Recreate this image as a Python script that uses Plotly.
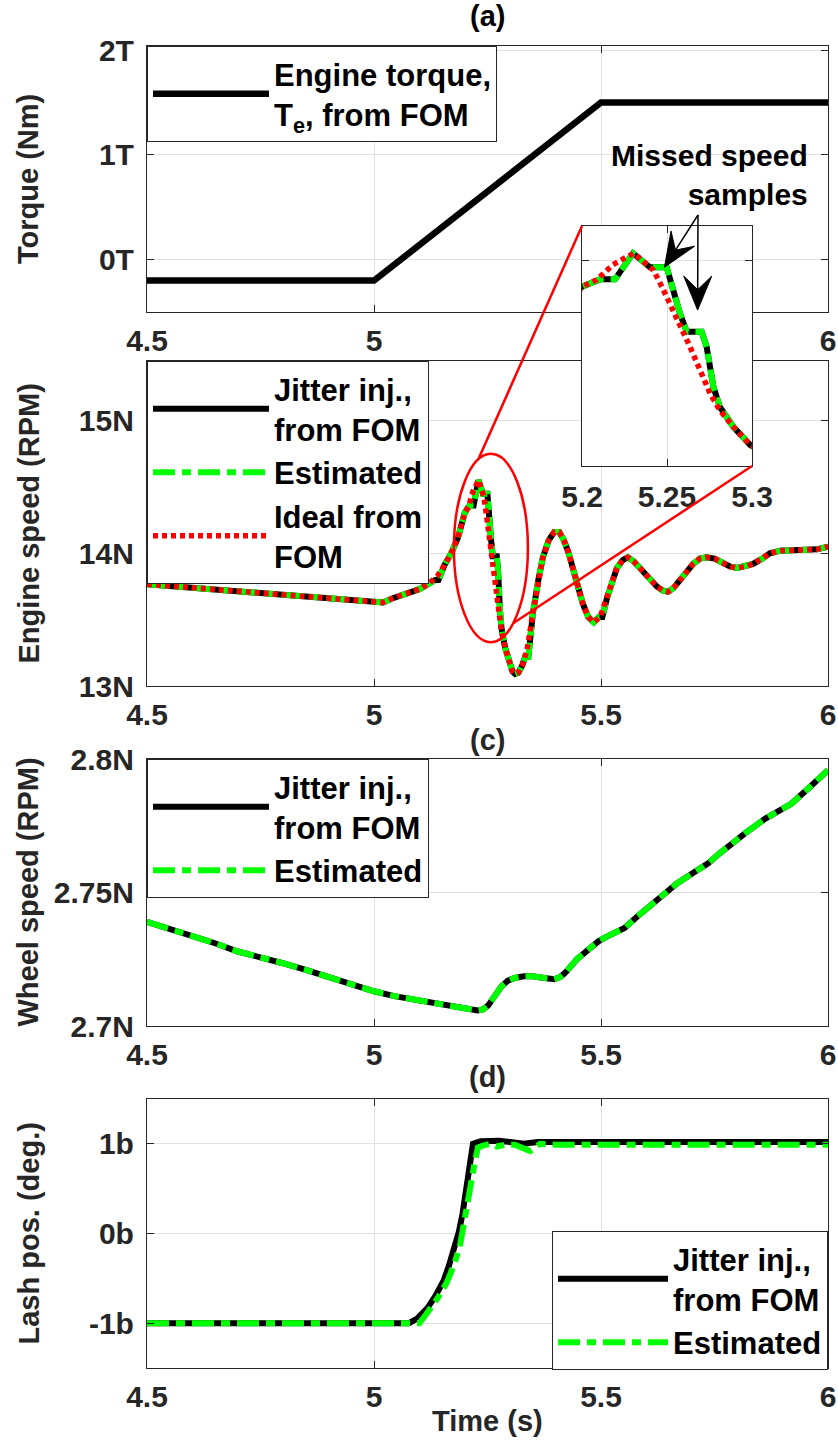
import math
import plotly.graph_objects as go

W, H = 838, 1441

# ---------------- data ----------------
x_ticks = [4.5, 5.0, 5.5, 6.0]
x_ticktext = ["4.5", "5", "5.5", "6"]

# (a) engine torque
torque_t = [4.5, 5.0, 5.5, 6.0]
torque_val = [-0.2, -0.2, 1.5, 1.5]
torque_ticks = [0, 1, 2]
torque_ticktext = ["0T", "1T", "2T"]

# (b) engine speed, ideal from FOM
speed_ideal_t = [4.5, 4.6, 4.7, 4.8, 4.9, 5.0, 5.02, 5.04, 5.07, 5.1, 5.12, 5.14, 5.155,
                 5.17, 5.185, 5.2, 5.2085, 5.218, 5.226, 5.2306, 5.236, 5.242, 5.247,
                 5.253, 5.258, 5.2635, 5.2694, 5.2753, 5.281, 5.289, 5.299, 5.305, 5.311,
                 5.318, 5.327, 5.337, 5.35, 5.362, 5.372, 5.385, 5.397, 5.408, 5.418,
                 5.428, 5.437, 5.447, 5.46, 5.472, 5.484, 5.498, 5.513, 5.525, 5.535,
                 5.548, 5.559, 5.572, 5.586, 5.605, 5.623, 5.636, 5.648, 5.66, 5.674,
                 5.69, 5.703, 5.718, 5.733, 5.75, 5.769, 5.785, 5.8, 5.818, 5.835,
                 5.855, 5.872, 5.895, 5.916, 5.95, 5.976, 6.0]
speed_ideal = [13.767, 13.74, 13.71, 13.68, 13.66, 13.63, 13.63, 13.66, 13.69, 13.73, 13.77,
               13.83, 13.91, 14.0, 14.12, 14.307, 14.356, 14.466, 14.522, 14.551, 14.49,
               14.429, 14.307, 14.137, 14.016, 13.87, 13.7, 13.53, 13.408, 13.286, 13.153,
               13.11, 13.09, 13.1, 13.16, 13.27, 13.55, 13.8, 13.97, 14.1, 14.16, 14.16,
               14.1, 14.01, 13.9, 13.77, 13.62, 13.52, 13.48, 13.52, 13.66, 13.8, 13.89,
               13.95, 13.97, 13.94, 13.89, 13.81, 13.75, 13.72, 13.71, 13.74, 13.8, 13.87,
               13.92, 13.96, 13.97, 13.96, 13.93, 13.9, 13.89, 13.9, 13.92, 13.96, 14.0,
               14.02, 14.02, 14.02, 14.03, 14.05]

# (b) engine speed with jitter injected (missed samples held)
speed_jit_t = [4.5, 4.6, 4.7, 4.8, 4.9, 5.0, 5.02, 5.04, 5.07, 5.1, 5.12, 5.135, 5.142,
               5.155, 5.17, 5.185, 5.2, 5.2106, 5.2194, 5.23, 5.24, 5.2498, 5.2576,
               5.2616, 5.2704, 5.2733, 5.2773, 5.281, 5.289, 5.299, 5.305, 5.311, 5.318,
               5.327, 5.333, 5.34, 5.35, 5.362, 5.372, 5.385, 5.397, 5.408, 5.418, 5.428,
               5.437, 5.447, 5.46, 5.472, 5.484, 5.495, 5.503, 5.513, 5.525, 5.535, 5.548,
               5.559, 5.572, 5.586, 5.605, 5.623, 5.636, 5.648, 5.66, 5.674, 5.69, 5.703,
               5.718, 5.733, 5.75, 5.769, 5.785, 5.8, 5.818, 5.835, 5.855, 5.872, 5.895,
               5.916, 5.95, 5.976, 6.0]
speed_jit = [13.767, 13.74, 13.71, 13.68, 13.66, 13.63, 13.63, 13.66, 13.69, 13.73, 13.77,
             13.8, 13.8, 13.91, 14.0, 14.12, 14.307, 14.361, 14.361, 14.551, 14.449,
             14.449, 14.113, 13.979, 13.979, 13.87, 13.578, 13.432, 13.286, 13.153, 13.11,
             13.09, 13.1, 13.16, 13.22, 13.22, 13.55, 13.8, 13.97, 14.1, 14.16, 14.16,
             14.1, 14.01, 13.9, 13.77, 13.62, 13.52, 13.48, 13.52, 13.52, 13.66, 13.8,
             13.89, 13.95, 13.97, 13.94, 13.89, 13.81, 13.75, 13.72, 13.71, 13.74, 13.8,
             13.87, 13.92, 13.96, 13.97, 13.96, 13.93, 13.9, 13.89, 13.9, 13.92, 13.96,
             14.0, 14.02, 14.02, 14.02, 14.03, 14.05]
# estimator output follows the jittered measurement
speed_est_t = list(speed_jit_t)
speed_est = list(speed_jit)
speed_ticks = [13, 14, 15]
speed_ticktext = ["13N", "14N", "15N"]

# (c) wheel speed
wheel_t = [4.5, 4.55, 4.604, 4.65, 4.7, 4.75, 4.797, 4.85, 4.894, 4.95, 5.0, 5.045, 5.087,
           5.135, 5.184, 5.21, 5.228, 5.24, 5.252, 5.265, 5.281, 5.295, 5.31, 5.33, 5.349,
           5.375, 5.397, 5.41, 5.421, 5.447, 5.474, 5.495, 5.513, 5.532, 5.552, 5.58,
           5.61, 5.64, 5.668, 5.7, 5.736, 5.76, 5.784, 5.82, 5.862, 5.89, 5.92, 5.96, 6.0]
wheel_jit = [2.739, 2.7365, 2.7335, 2.731, 2.7279, 2.7258, 2.7236, 2.721, 2.7186, 2.7155,
             2.713, 2.7112, 2.7099, 2.7088, 2.7074, 2.7066, 2.7058, 2.7062, 2.7078, 2.711,
             2.7149, 2.717, 2.718, 2.7186, 2.7186, 2.718, 2.7175, 2.7183, 2.7199, 2.725,
             2.7292, 2.7318, 2.7335, 2.735, 2.7367, 2.741, 2.7454, 2.7497, 2.7535, 2.757,
             2.7609, 2.7645, 2.7678, 2.7725, 2.7777, 2.7805, 2.7833, 2.7895, 2.7958]
wheel_est = list(wheel_jit)
wheel_ticks = [2.7, 2.75, 2.8]
wheel_ticktext = ["2.7N", "2.75N", "2.8N"]

# (d) lash position
lash_jit_t = [4.5, 5.077, 5.095, 5.118, 5.135, 5.153, 5.165, 5.177, 5.187, 5.195, 5.206,
              5.213, 5.218, 5.235, 5.255, 5.275, 5.3, 5.33, 5.36, 5.4, 5.45, 5.5, 5.6,
              5.7, 6.0]
lash_jit = [-1.0, -1.0, -0.95, -0.83, -0.7, -0.53, -0.36, -0.16, 0.02, 0.22, 0.59, 0.85,
            1.0, 1.03, 1.04, 1.035, 1.02, 1.0, 1.02, 1.02, 1.025, 1.02, 1.02, 1.02, 1.02]
lash_est_t = [4.5, 5.1, 5.115, 5.141, 5.16, 5.177, 5.19, 5.2, 5.212, 5.222, 5.229, 5.24,
              5.255, 5.27, 5.29, 5.31, 5.335, 5.344, 5.355, 5.366, 5.4, 6.0]
lash_est = [-1.0, -1.0, -0.9, -0.715, -0.55, -0.34, -0.12, 0.14, 0.51, 0.8, 0.96, 0.98,
            1.0, 0.97, 0.99, 0.99, 0.95, 0.92, 0.96, 1.0, 0.99, 0.99]
lash_ticks = [-1, 0, 1]
lash_ticktext = ["-1b", "0b", "1b"]

# zoom window drawn in the inset
zoom_t = [5.2, 5.3]
zoom_speed = [13.0, 14.75]
zoom_ticks = [5.2, 5.25, 5.3]
zoom_ticktext = ["5.2", "5.25", "5.3"]
# ellipse marking the zoomed region on the speed plot: centre and half-axes
ell_center = (5.2575, 14.04)
ell_radius = (0.0815, 0.71)
# held samples the arrows point at (time, speed)
missed_samples = [(5.2485, 14.449), (5.268, 14.137)]

# ---------------- layout helpers ----------------
def fx(px):
    return px / W

def fy(py):
    return 1 - py / H

X_DOM = [fx(147), fx(828)]
DOM_A = [fy(312), fy(46)]
DOM_B = [fy(686), fy(361)]
DOM_C = [fy(1026), fy(759)]
DOM_D = [fy(1368), fy(1099)]
INSET_X = [fx(582), fx(752)]
INSET_Y = [fy(466), fy(226)]

FONT = "Liberation Sans, Arial, sans-serif"
AX_COLOR = "#262626"
GRID = "#e1e1e1"
BLACK, GREEN, RED = "#000000", "#00ff00", "#ff0000"
DASHDOT = "22px,7px,9px,7px"
DOT = "5px,4px"


def axis_style(**kw):
    d = dict(showline=True, linecolor=AX_COLOR, linewidth=1.2, mirror="allticks",
             ticks="inside", ticklen=7, tickwidth=1.2, tickcolor=AX_COLOR,
             showgrid=True, gridcolor=GRID, gridwidth=1, zeroline=False,
             tickfont=dict(family=FONT, size=30, color=AX_COLOR, weight="bold"))
    d.update(kw)
    return d


fig = go.Figure()

# (a)
fig.add_trace(go.Scatter(x=torque_t, y=torque_val, mode="lines",
                         line=dict(color=BLACK, width=6.5),
                         name="Engine torque,<br>T<sub>e</sub>, from FOM", showlegend=True,
                         xaxis="x", yaxis="y", legend="legend"))

# (b) main plot and inset use the same series
for xa, ya, show in (("x2", "y2", True), ("x5", "y5", False)):
    fig.add_trace(go.Scatter(x=speed_jit_t, y=speed_jit, mode="lines",
                             line=dict(color=BLACK, width=6),
                             name="Jitter inj.,<br>from FOM", showlegend=show,
                             xaxis=xa, yaxis=ya, legend="legend2"))
    fig.add_trace(go.Scatter(x=speed_est_t, y=speed_est, mode="lines",
                             line=dict(color=GREEN, width=6, dash=DASHDOT),
                             name="Estimated", showlegend=show,
                             xaxis=xa, yaxis=ya, legend="legend2"))
    fig.add_trace(go.Scatter(x=speed_ideal_t, y=speed_ideal, mode="lines",
                             line=dict(color=RED, width=5.5, dash=DOT),
                             name="Ideal from<br>FOM", showlegend=show,
                             xaxis=xa, yaxis=ya, legend="legend2"))

# (c)
fig.add_trace(go.Scatter(x=wheel_t, y=wheel_jit, mode="lines",
                         line=dict(color=BLACK, width=6),
                         name="Jitter inj.,<br>from FOM",
                         xaxis="x3", yaxis="y3", legend="legend3"))
fig.add_trace(go.Scatter(x=wheel_t, y=wheel_est, mode="lines",
                         line=dict(color=GREEN, width=6, dash=DASHDOT),
                         name="Estimated", xaxis="x3", yaxis="y3", legend="legend3"))

# (d)
fig.add_trace(go.Scatter(x=lash_jit_t, y=lash_jit, mode="lines",
                         line=dict(color=BLACK, width=6),
                         name="Jitter inj.,<br>from FOM",
                         xaxis="x4", yaxis="y4", legend="legend4"))
fig.add_trace(go.Scatter(x=lash_est_t, y=lash_est, mode="lines",
                         line=dict(color=GREEN, width=6, dash=DASHDOT),
                         name="Estimated", xaxis="x4", yaxis="y4", legend="legend4"))

xstd = dict(range=[4.5, 6.0], tickvals=x_ticks, ticktext=x_ticktext, ticklabelstandoff=2)
ystd = dict(ticklabelstandoff=6)

legend_common = dict(bgcolor="white", bordercolor=AX_COLOR, borderwidth=1,
                     font=dict(family=FONT, size=31, color="black", weight="bold"),
                     itemwidth=116, xanchor="left", yanchor="top", valign="middle",
                     tracegroupgap=0, visible=True)

fig.update_layout(
    width=W, height=H, autosize=False, showlegend=True,
    margin=dict(l=0, r=0, t=0, b=0, pad=0, autoexpand=False),
    paper_bgcolor="white", plot_bgcolor="white",
    xaxis=axis_style(domain=X_DOM, anchor="y", **xstd),
    yaxis=axis_style(domain=DOM_A, anchor="x", range=[-0.5, 2.04],
                     tickvals=torque_ticks, ticktext=torque_ticktext, **ystd),
    xaxis2=axis_style(domain=X_DOM, anchor="y2", **xstd),
    yaxis2=axis_style(domain=DOM_B, anchor="x2", range=[13.0, 15.45],
                      tickvals=speed_ticks, ticktext=speed_ticktext, **ystd),
    xaxis3=axis_style(domain=X_DOM, anchor="y3", **xstd),
    yaxis3=axis_style(domain=DOM_C, anchor="x3", range=[2.7, 2.8],
                      tickvals=wheel_ticks, ticktext=wheel_ticktext, **ystd),
    xaxis4=axis_style(domain=X_DOM, anchor="y4", **xstd),
    yaxis4=axis_style(domain=DOM_D, anchor="x4", range=[-1.5, 1.5],
                      tickvals=lash_ticks, ticktext=lash_ticktext, **ystd),
    xaxis5=axis_style(domain=INSET_X, anchor="y5", range=zoom_t,
                      tickvals=zoom_ticks, ticktext=zoom_ticktext, ticklabelstandoff=4),
    yaxis5=axis_style(domain=INSET_Y, anchor="x5", range=zoom_speed,
                      tickvals=[14.5], showticklabels=False),
    legend=dict(legend_common, x=fx(147), y=fy(46)),
    legend2=dict(legend_common, x=fx(147), y=fy(361)),
    legend3=dict(legend_common, x=fx(147), y=fy(759)),
    legend4=dict(legend_common, x=fx(828), y=fy(1231), xanchor="right", itemwidth=110),
)


def to_paper(val, rng, dom):
    return dom[0] + (val - rng[0]) / (rng[1] - rng[0]) * (dom[1] - dom[0])


# ellipse and the two connector lines to the inset
cx, cy = ell_center
rx, ry = ell_radius
fig.add_shape(type="circle", xref="x2", yref="y2",
              x0=cx - rx, x1=cx + rx, y0=cy - ry, y1=cy + ry,
              line=dict(color=RED, width=2.5), layer="above")


def ellipse_point(deg):
    a = math.radians(deg)
    return (to_paper(cx + rx * math.cos(a), [4.5, 6.0], X_DOM),
            to_paper(cy + ry * math.sin(a), [13.0, 15.45], DOM_B))


for corner, deg in (((INSET_X[0], INSET_Y[1]), 110), ((INSET_X[1], INSET_Y[0]), -53)):
    ex, ey = ellipse_point(deg)
    fig.add_shape(type="line", xref="paper", yref="paper",
                  x0=corner[0], y0=corner[1], x1=ex, y1=ey,
                  line=dict(color=RED, width=2.5), layer="above")

# arrows from the label to the held samples in the inset (shaft + swept arrowhead)
tail_px = (698.0, 215.0)
HEAD_LEN, HEAD_HALF, NOTCH = 34.0, 14.0, 0.6
for t_s, v_s in missed_samples:
    tip_px = (to_paper(t_s, zoom_t, INSET_X) * W,
              (1 - to_paper(v_s, zoom_speed, INSET_Y)) * H)
    dx, dy = tip_px[0] - tail_px[0], tip_px[1] - tail_px[1]
    n = math.hypot(dx, dy)
    ux, uy = dx / n, dy / n
    nx, ny = -uy, ux
    base = (tip_px[0] - HEAD_LEN * ux, tip_px[1] - HEAD_LEN * uy)
    notch = (tip_px[0] - NOTCH * HEAD_LEN * ux, tip_px[1] - NOTCH * HEAD_LEN * uy)
    wing1 = (base[0] + HEAD_HALF * nx, base[1] + HEAD_HALF * ny)
    wing2 = (base[0] - HEAD_HALF * nx, base[1] - HEAD_HALF * ny)
    fig.add_shape(type="line", xref="paper", yref="paper",
                  x0=fx(tail_px[0]), y0=fy(tail_px[1]), x1=fx(notch[0]), y1=fy(notch[1]),
                  line=dict(color="black", width=1.5), layer="above")
    pts = [tip_px, wing1, notch, wing2]
    path = "M " + " L ".join(f"{fx(p[0]):.5f},{fy(p[1]):.5f}" for p in pts) + " Z"
    fig.add_shape(type="path", xref="paper", yref="paper", path=path,
                  fillcolor="black", line=dict(color="black", width=1), layer="above")

texts = [
    ("Missed speed<br>samples", fx(810), fy(175), "right", 0, "black", 30),
    ("(a)", fx(487), fy(16), "center", 0, "black", 29),
    ("(c)", fx(487), fy(740), "center", 0, AX_COLOR, 29),
    ("(d)", fx(487), fy(1077), "center", 0, AX_COLOR, 29),
    ("Time (s)", fx(487), fy(1421), "center", 0, AX_COLOR, 29),
    ("Torque (Nm)", fx(28), (DOM_A[0] + DOM_A[1]) / 2, "center", -90, AX_COLOR, 29),
    ("Engine speed (RPM)", fx(28), (DOM_B[0] + DOM_B[1]) / 2, "center", -90, AX_COLOR, 29),
    ("Wheel speed (RPM)", fx(28), (DOM_C[0] + DOM_C[1]) / 2, "center", -90, AX_COLOR, 29),
    ("Lash pos. (deg.)", fx(28), (DOM_D[0] + DOM_D[1]) / 2, "center", -90, AX_COLOR, 29),
]
for txt, x, y, align, ang, col, size in texts:
    fig.add_annotation(text=txt, x=x, y=y, xref="paper", yref="paper",
                       xanchor=align if align != "center" else "center",
                       yanchor="middle", align=align, textangle=ang,
                       showarrow=False,
                       font=dict(family=FONT, size=size, color=col, weight="bold"))

fig.write_html("out.html")
